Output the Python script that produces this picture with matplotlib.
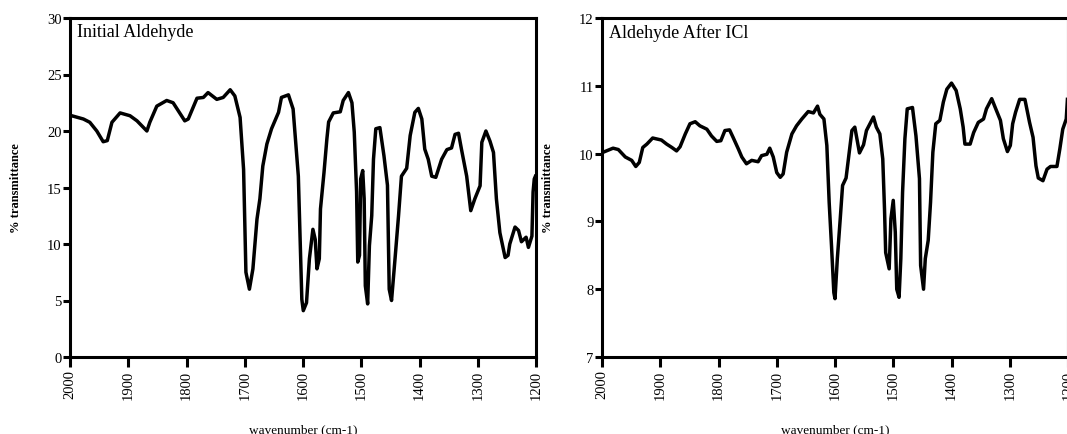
import numpy as np
import matplotlib
matplotlib.use("Agg")
from matplotlib import pyplot as plt

plt.rcParams['font.family'] = ['Liberation Serif', 'DejaVu Serif']

# spectrum 1: initial aldehyde (wavenumber, % transmittance)
wn_initial = [1999, 1997, 1977, 1966, 1954, 1943, 1936, 1928, 1914, 1897, 1885, 1868,
              1863, 1851, 1834, 1823, 1803, 1797, 1782, 1771, 1763, 1748, 1737, 1725,
              1717, 1708, 1702, 1698, 1692, 1686, 1679, 1674, 1669, 1662, 1654, 1642,
              1637, 1625, 1617, 1608, 1602, 1599.5, 1594, 1589, 1583, 1579, 1576, 1572,
              1570, 1564, 1559, 1556, 1548, 1536, 1531, 1522, 1516, 1512, 1508, 1506,
              1503, 1501, 1497.5, 1495, 1493, 1489, 1486, 1482, 1479, 1475, 1468, 1461,
              1455, 1452, 1448, 1442, 1436, 1431, 1422, 1416, 1408, 1402, 1396, 1391,
              1385, 1379, 1372, 1362, 1353, 1345, 1339, 1333, 1328, 1319, 1312, 1305,
              1296, 1293, 1286, 1279, 1273, 1268, 1262, 1253, 1248, 1245, 1236, 1230,
              1225, 1217, 1213, 1207, 1205, 1203, 1201]
t_initial = [21.3, 21.35, 21.06, 20.77, 20.0, 19.05, 19.15, 20.77, 21.6, 21.35, 20.9, 20.0,
             20.77, 22.2, 22.7, 22.5, 20.9, 21.06, 22.9, 22.97, 23.4, 22.8, 22.97, 23.65,
             23.1, 21.2, 16.6, 7.5, 6.0, 7.8, 12.2, 14.0, 16.9, 18.85, 20.2, 21.65,
             22.97, 23.2, 21.95, 16.0, 5.1, 4.1, 4.8, 8.7, 11.3, 10.4, 7.8, 8.7,
             13.1, 16.3, 19.3, 20.8, 21.6, 21.7, 22.7, 23.4, 22.5, 19.9, 14.6, 8.4,
             9.0, 15.75, 16.5, 14.0, 6.3, 4.7, 9.85, 12.5, 17.5, 20.2, 20.3, 17.8,
             15.2, 6.0, 5.0, 8.7, 12.5, 16.0, 16.7, 19.6, 21.65, 22.0, 21.06, 18.4,
             17.5, 16.0, 15.9, 17.5, 18.35, 18.5, 19.7, 19.8, 18.4, 16.0, 12.95, 14.0,
             15.15, 19.0, 20.0, 19.1, 18.1, 14.0, 11.0, 8.8, 9.0, 10.0, 11.5, 11.2,
             10.2, 10.6, 9.7, 10.7, 14.6, 15.75, 16.0]

# spectrum 2: aldehyde after ICl
wn_icl = [1998, 1981, 1972, 1960, 1949, 1942, 1936, 1930, 1923, 1913, 1898, 1889,
          1880, 1872, 1866, 1857, 1849, 1840, 1832, 1820, 1812, 1803, 1796, 1789,
          1781, 1775, 1766, 1760, 1752, 1743, 1732, 1726, 1717, 1712, 1706, 1700,
          1694, 1689, 1683, 1674, 1666, 1657, 1646, 1637, 1630, 1626, 1619, 1614,
          1610, 1606, 1602, 1600, 1596, 1591, 1587, 1581, 1577, 1571, 1566, 1558,
          1551, 1546, 1540, 1534, 1529, 1523, 1518, 1515, 1513, 1507, 1504, 1500,
          1496.5, 1494, 1490, 1487, 1484, 1480, 1476, 1467, 1461, 1455, 1453, 1448,
          1445, 1440, 1436, 1432, 1427, 1420, 1414, 1408, 1400, 1392, 1385, 1380,
          1377, 1368, 1362, 1354, 1345, 1340, 1331, 1324, 1316, 1311, 1304, 1299,
          1295, 1290, 1283, 1274, 1266, 1260, 1255, 1251, 1243, 1236, 1230, 1219,
          1214, 1209, 1203, 1201]
t_icl = [10.02, 10.08, 10.06, 9.95, 9.9, 9.81, 9.87, 10.09, 10.14, 10.23, 10.2, 10.14,
         10.09, 10.04, 10.1, 10.29, 10.44, 10.47, 10.41, 10.36, 10.26, 10.18, 10.19, 10.34,
         10.35, 10.24, 10.07, 9.95, 9.85, 9.9, 9.88, 9.97, 9.99, 10.08, 9.95, 9.72,
         9.65, 9.7, 10.02, 10.29, 10.41, 10.51, 10.62, 10.6, 10.7, 10.58, 10.51, 10.12,
         9.28, 8.64, 7.95, 7.86, 8.45, 9.04, 9.53, 9.64, 9.92, 10.34, 10.39, 10.01,
         10.13, 10.34, 10.44, 10.54, 10.39, 10.29, 9.92, 9.18, 8.54, 8.3, 9.04, 9.31,
         8.84, 8.0, 7.88, 8.45, 9.43, 10.22, 10.66, 10.68, 10.26, 9.63, 8.35, 8.0,
         8.45, 8.72, 9.28, 10.02, 10.44, 10.49, 10.76, 10.95, 11.04, 10.93, 10.66, 10.39,
         10.14, 10.14, 10.31, 10.46, 10.51, 10.66, 10.81, 10.66, 10.49, 10.22, 10.03, 10.12,
         10.44, 10.61, 10.8, 10.8, 10.46, 10.24, 9.82, 9.64, 9.6, 9.77, 9.81, 9.81,
         10.07, 10.36, 10.51, 10.8]

xticks = [2000, 1900, 1800, 1700, 1600, 1500, 1400, 1300, 1200]
yticks_initial = [0, 5, 10, 15, 20, 25, 30]
yticks_icl = [7, 8, 9, 10, 11, 12]

W, H = 1067, 435
fig = plt.figure(figsize=(W / 100, H / 100), dpi=100)

panels = [
    (70, wn_initial, t_initial, yticks_initial, "Initial Aldehyde"),
    (602, wn_icl, t_icl, yticks_icl, "Aldehyde After ICl"),
]

for left, wn, t, yt, title in panels:
    ax = fig.add_axes([left / W, 77 / H, 466 / W, 339 / H])
    ax.plot(wn, t, color='black', lw=2.5, solid_joinstyle='round')
    ax.set_xlim(2000, 1200)
    ax.set_ylim(yt[0], yt[-1])
    ax.set_xticks(xticks)
    ax.set_yticks(yt)
    ax.set_xticklabels([str(v) for v in xticks], rotation=90, fontsize=10.5)
    ax.set_yticklabels([str(v) for v in yt], fontsize=10.5)
    ax.tick_params(axis='x', direction='out', length=7, width=2.2, pad=2)
    ax.tick_params(axis='y', direction='out', length=5, width=2.2, pad=1)
    for s in ax.spines.values():
        s.set_linewidth(2.2)
    ax.text(0.014, 0.985, title, transform=ax.transAxes, ha='left', va='top',
            fontsize=13)
    ax.set_xlabel("wavenumber (cm-1)", fontsize=9.5)
    ax.xaxis.set_label_coords(0.5, -0.195)
    ax.set_ylabel("% transmittance", fontsize=9, fontweight='bold')
    ax.yaxis.set_label_coords(-0.104, 0.5)

fig.savefig("out.png", dpi=100)
